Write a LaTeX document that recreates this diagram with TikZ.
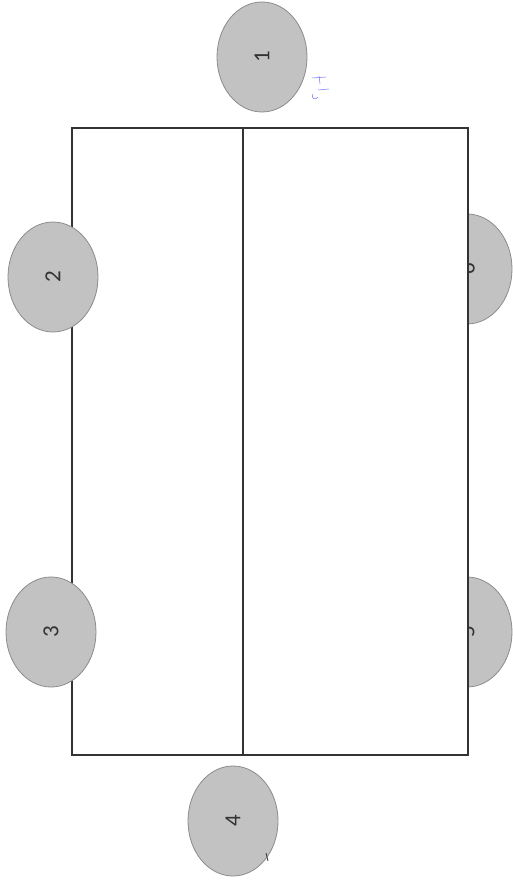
\documentclass[tikz,border=0pt]{standalone}
\usepackage{fontspec}
\setmainfont{Carlito}
\usetikzlibrary{shapes.geometric}
\begin{document}
\begin{tikzpicture}[x=1pt,y=-1pt,
  blob/.style={ellipse, draw=black!45, line width=0.8pt, fill=black!24, rotate=90, minimum width=110pt, minimum height=90pt, inner sep=0pt, font=\fontsize{23}{25}\selectfont, text=black!80},
  frame/.style={draw=black!80, line width=1.2pt}]
\useasboundingbox (0,0) rectangle (513,882);
\fill[white] (0,0) rectangle (513,882);
% right ellipses (behind the frame)
\node[blob] (e6) at (467,269) {6};
\node[blob] (e5) at (467,632) {5};
% frame
\coordinate (tl) at (72,128);
\coordinate (br) at (468,755);
\coordinate (mt) at (243,128);
\coordinate (mb) at (243,755);
\fill[white] (tl) rectangle (br);
\draw[frame] (tl) rectangle (br);
\draw[frame] (mt) -- (mb);
% other ellipses
\node[blob] (e1) at (262,57) {1};
\node[blob] (e2) at (53,277) {2};
\node[blob] (e3) at (51,632) {3};
\node[blob] (e4) at (233,821) {4};
% faint handwritten marks
\draw[blue!55, line width=0.5pt] (312,78) -- (326,77) (319,76) -- (320,84) (318,90) -- (329,89) (313,94) .. controls (310,98) and (316,101) .. (318,97);
\draw[black!80, line width=0.8pt] (266,853) -- (268,861);
\end{tikzpicture}
\end{document}
